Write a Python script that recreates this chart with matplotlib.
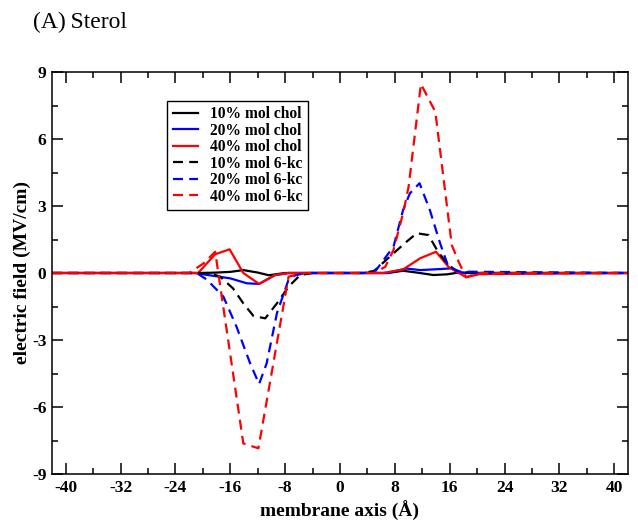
import numpy as np
import matplotlib
matplotlib.use("Agg")
import matplotlib.pyplot as plt
from matplotlib.ticker import MultipleLocator

plt.rcParams['font.family'] = ['Liberation Serif', 'DejaVu Serif']
plt.rcParams['axes.unicode_minus'] = False

# (membrane axis in Angstrom, field in MV/cm)
x_10_chol = [-42, -20, -18, -16, -14.1, -12, -10.4, -8, 7, 9.2, 11.2, 13.6, 15.6, 17.5, 19, 42]
y_10_chol = [0, 0, 0.02, 0.05, 0.13, 0.02, -0.1, 0, 0, 0.1, 0.02, -0.09, -0.06, 0.03, 0, 0]

x_20_chol = [-42, -21, -19.7, -16, -13.6, -11.8, -9.5, -7.5, 6.8, 9.7, 11.7, 14.8, 16.3, 17.2, 42]
y_20_chol = [0, 0, -0.07, -0.24, -0.46, -0.49, -0.1, 0, 0, 0.2, 0.13, 0.18, 0.21, 0, 0]

x_40_chol = [-42, -20.7, -18.2, -16.1, -14.1, -11.8, -9.5, -7.5, 6.3, 9.2, 11.7, 14.0, 15.8, 17.0, 18.4, 20.4, 42]
y_40_chol = [0, 0, 0.84, 1.06, 0, -0.49, -0.09, 0, 0, 0.16, 0.66, 0.95, 0.28, 0.06, -0.19, -0.05, 0]

x_10_6kc = [-42, -19, -17.5, -15.6, -14.1, -12.6, -10.9, -9.2, -7.5, -5.8, -4, 3.5, 5.0, 7.8, 9.7, 11.2, 12.9, 14.3, 15.8, 17.0, 19, 42]
y_10_6kc = [0, 0, -0.16, -0.69, -1.36, -1.93, -2.03, -1.36, -0.61, -0.09, 0, 0, 0.1, 0.88, 1.4, 1.78, 1.7, 0.95, 0.36, 0.1, 0, 0]

x_20_6kc = [-42, -20.9, -19.4, -17, -15.1, -13.1, -11.8, -10.7, -9.2, -7.5, -6.5, -5, 3.5, 5.1, 7.8, 9.2, 10.2, 11.6, 13.1, 14.6, 15.8, 17.5, 42]
y_20_6kc = [0, 0, -0.3, -1.06, -2.4, -4.05, -4.97, -4.05, -1.8, -0.3, -0.1, 0, 0, 0.06, 1.18, 2.82, 3.57, 4.02, 2.82, 1.33, 0.28, 0.06, 0]

x_40_6kc = [-42, -22, -19.9, -18.2, -14.1, -11.9, -7.5, -5, 5, 6.6, 7.8, 9.2, 10.0, 11.8, 13.9, 16.3, 17.3, 18.4, 20.4, 42]
y_40_6kc = [0, 0, 0.43, 0.95, -7.63, -7.85, -0.16, 0, 0, 0.28, 1.03, 2.67, 3.86, 8.46, 7.22, 1.25, 0.5, -0.19, 0, 0]

series = [
    (x_10_chol, y_10_chol, 'black', '-', '10% mol chol'),
    (x_20_chol, y_20_chol, 'blue', '-', '20% mol chol'),
    (x_40_chol, y_40_chol, 'red', '-', '40% mol chol'),
    (x_10_6kc, y_10_6kc, 'black', '--', '10% mol 6-kc'),
    (x_20_6kc, y_20_6kc, 'blue', '--', '20% mol 6-kc'),
    (x_40_6kc, y_40_6kc, 'red', '--', '40% mol 6-kc'),
]

fig = plt.figure(figsize=(6.38, 5.31), dpi=100)
ax = fig.add_axes([52 / 638, 57 / 531, 576 / 638, 402 / 531])

for xs, ys, col, ls, lab in series:
    if ls == '--':
        ax.plot(xs, ys, color=col, lw=1.6, ls=ls, dashes=(4.5, 2.8), label=lab)
    else:
        ax.plot(xs, ys, color=col, lw=1.6, ls=ls, label=lab)

ax.set_xlim(-42, 42)
ax.set_ylim(-9, 9)
ax.xaxis.set_major_locator(MultipleLocator(8))
ax.xaxis.set_minor_locator(MultipleLocator(4))
ax.yaxis.set_major_locator(MultipleLocator(3))
ax.yaxis.set_minor_locator(MultipleLocator(1.5))
ax.tick_params(which='both', direction='in', top=True, right=True, width=1.1)
ax.tick_params(which='major', length=8, labelsize=12.5, pad=4)
ax.tick_params(which='minor', length=4)
for lbl in ax.get_xticklabels() + ax.get_yticklabels():
    lbl.set_fontweight('bold')
for sp in ax.spines.values():
    sp.set_linewidth(1.1)

ax.set_xlabel('membrane axis (Å)', fontsize=14, fontweight='bold', labelpad=4)
ax.set_ylabel('electric field (MV/cm)', fontsize=14, fontweight='bold', labelpad=1)

leg = ax.legend(loc='upper left', bbox_to_anchor=(0.2, 0.928),
                prop={'weight': 'bold', 'size': 11.2}, fancybox=False,
                edgecolor='black', framealpha=1, handlelength=1.6,
                handletextpad=0.8, labelspacing=0.03, borderpad=0.35,
                borderaxespad=0)
leg.get_frame().set_linewidth(1.0)

fig.text(33 / 638, 1 - 28 / 531, '(A)\u2009Sterol', fontsize=17, ha='left', va='baseline')

fig.savefig('out.png', dpi=100)
